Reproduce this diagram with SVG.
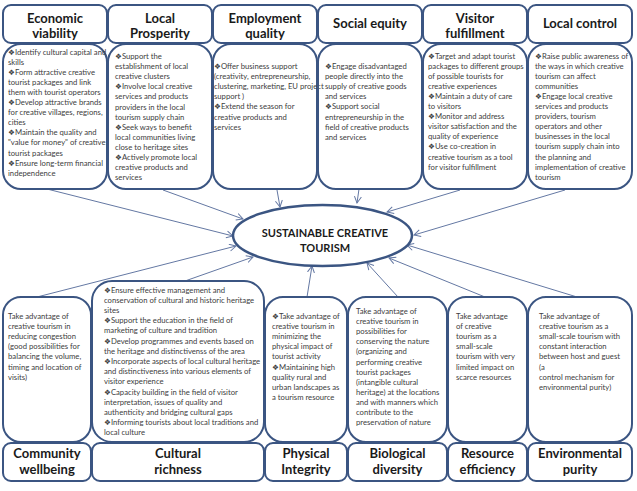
<svg xmlns="http://www.w3.org/2000/svg" width="637" height="491" viewBox="0 0 637 491">
<defs>
<marker id="arr" markerWidth="9" markerHeight="9" refX="7" refY="4" orient="auto" markerUnits="userSpaceOnUse">
<path d="M0.5,0.5 L7,4 L0.5,7.5" fill="none" stroke="#6478a3" stroke-width="1"/>
</marker>
<style>
.hd{fill:#fff;stroke:#3b5582;stroke-width:2}
.bx{fill:none;stroke:#3b5582;stroke-width:2}
.ht{font-family:Lato,"Liberation Sans","DejaVu Sans",sans-serif;font-weight:bold;font-size:13px;fill:#1a1a1a;text-anchor:middle}
.ct{font-family:Lato,"Liberation Sans","DejaVu Sans",sans-serif;font-size:7.7px;fill:#404040}
.cn{stroke:#6478a3;stroke-width:1;fill:none;marker-end:url(#arr)}
.et{font-family:Lato,"Liberation Sans",sans-serif;font-weight:bold;font-size:11px;fill:#1a1a1a;text-anchor:middle}
</style>
</defs>
<rect width="637" height="491" fill="#fff"/>

<g id="connectors">
<line class="cn" x1="47" y1="189" x2="233" y2="236"/>
<line class="cn" x1="163" y1="190" x2="243" y2="219"/>
<line class="cn" x1="277" y1="190" x2="280" y2="207"/>
<line class="cn" x1="359" y1="189" x2="357" y2="203"/>
<line class="cn" x1="460" y1="190" x2="387" y2="212"/>
<line class="cn" x1="565" y1="190" x2="414" y2="235"/>
<line class="cn" x1="37" y1="297" x2="236" y2="246"/>
<line class="cn" x1="185" y1="281" x2="253" y2="257"/>
<line class="cn" x1="307" y1="297" x2="312" y2="266"/>
<line class="cn" x1="398" y1="297" x2="367" y2="263"/>
<line class="cn" x1="485" y1="297" x2="389" y2="258"/>
<line class="cn" x1="577" y1="297" x2="407" y2="245"/>
</g>

<g id="center">
<ellipse cx="322.5" cy="235.5" rx="89.5" ry="30.5" fill="#fff" stroke="#3b5582" stroke-width="2.5"/>
<text class="et" x="325" y="237">SUSTAINABLE CREATIVE</text>
<text class="et" x="325" y="252">TOURISM</text>
</g>

<g id="economic-viability">
<rect class="bx" x="3" y="44" width="104" height="145" rx="18"/>
<rect class="hd" x="3" y="5" width="104" height="38" rx="8"/>
<text class="ht" x="55" y="23">Economic</text>
<text class="ht" x="55" y="38">viability</text>
<text class="ct" x="8" y="54.5">❖Identify cultural capital and<tspan x="8" dy="10.1">skills</tspan><tspan x="8" dy="10.1">❖Form attractive creative</tspan><tspan x="8" dy="10.1">tourist packages and link</tspan><tspan x="8" dy="10.1">them with tourist operators</tspan><tspan x="8" dy="10.1">❖Develop attractive brands</tspan><tspan x="8" dy="10.1">for creative villages, regions,</tspan><tspan x="8" dy="10.1">cities</tspan><tspan x="8" dy="10.1">❖Maintain the quality and</tspan><tspan x="8" dy="10.1">"value for money" of creative</tspan><tspan x="8" dy="10.1">tourist packages</tspan><tspan x="8" dy="10.1">❖Ensure long-term financial</tspan><tspan x="8" dy="10.1">independence</tspan></text>
</g>

<g id="local-prosperity">
<rect class="bx" x="108" y="44" width="104" height="145" rx="18"/>
<rect class="hd" x="108" y="5" width="104" height="38" rx="8"/>
<text class="ht" x="160" y="23">Local</text>
<text class="ht" x="160" y="38">Prosperity</text>
<text class="ct" x="115" y="59">❖Support  the<tspan x="115" dy="10.1">establishment of local</tspan><tspan x="115" dy="10.1">creative clusters</tspan><tspan x="115" dy="10.1">❖Involve local creative</tspan><tspan x="115" dy="10.1">services and products</tspan><tspan x="115" dy="10.1">providers in the local</tspan><tspan x="115" dy="10.1">tourism supply chain</tspan><tspan x="115" dy="10.1">❖Seek ways to benefit</tspan><tspan x="115" dy="10.1">local communities living</tspan><tspan x="115" dy="10.1">close to heritage sites</tspan><tspan x="115" dy="10.1">❖Actively promote local</tspan><tspan x="115" dy="10.1">creative products and</tspan><tspan x="115" dy="10.1">services</tspan></text>
</g>

<g id="employment-quality">
<rect class="bx" x="213" y="44" width="104" height="145" rx="18"/>
<rect class="hd" x="213" y="5" width="104" height="38" rx="8"/>
<text class="ht" x="265" y="23">Employment</text>
<text class="ht" x="265" y="38">quality</text>
<text class="ct" x="214" y="69">❖Offer business support<tspan x="214" dy="10.1">(creativity, entrepreneurship,</tspan><tspan x="214" dy="10.1">clustering, marketing, EU project</tspan><tspan x="214" dy="10.1">support )</tspan><tspan x="214" dy="10.1">❖Extend the season for</tspan><tspan x="214" dy="10.1">creative products and</tspan><tspan x="214" dy="10.1">services</tspan></text>
</g>

<g id="social-equity">
<rect class="bx" x="318" y="44" width="104" height="145" rx="18"/>
<rect class="hd" x="318" y="5" width="104" height="38" rx="8"/>
<text class="ht" x="370" y="28">Social equity</text>
<text class="ct" x="325" y="69">❖Engage disadvantaged<tspan x="325" dy="10.1">people directly into the</tspan><tspan x="325" dy="10.1">supply of creative goods</tspan><tspan x="325" dy="10.1">and services</tspan><tspan x="325" dy="10.1">❖Support social</tspan><tspan x="325" dy="10.1">entrepreneurship in the</tspan><tspan x="325" dy="10.1">field of creative products</tspan><tspan x="325" dy="10.1">and services</tspan></text>
</g>

<g id="visitor-fulfillment">
<rect class="bx" x="423" y="44" width="104" height="145" rx="18"/>
<rect class="hd" x="423" y="5" width="104" height="38" rx="8"/>
<text class="ht" x="475" y="23">Visitor</text>
<text class="ht" x="475" y="38">fulfillment</text>
<text class="ct" x="428" y="58.5">❖Target and adapt tourist<tspan x="428" dy="10.1">packages to different groups</tspan><tspan x="428" dy="10.1">of possible tourists for</tspan><tspan x="428" dy="10.1">creative experiences</tspan><tspan x="428" dy="10.1">❖Maintain a duty of care</tspan><tspan x="428" dy="10.1">to visitors</tspan><tspan x="428" dy="10.1">❖Monitor and address</tspan><tspan x="428" dy="10.1">visitor satisfaction and the</tspan><tspan x="428" dy="10.1">quality of experience</tspan><tspan x="428" dy="10.1">❖Use co-creation in</tspan><tspan x="428" dy="10.1">creative tourism as a tool</tspan><tspan x="428" dy="10.1">for visitor fulfillment</tspan></text>
</g>

<g id="local-control">
<rect class="bx" x="528" y="44" width="104" height="145" rx="18"/>
<rect class="hd" x="528" y="5" width="104" height="38" rx="8"/>
<text class="ht" x="580" y="28">Local control</text>
<text class="ct" x="535" y="58.5">❖Raise public awareness of<tspan x="535" dy="10.1">the ways in which creative</tspan><tspan x="535" dy="10.1">tourism can affect</tspan><tspan x="535" dy="10.1">communities</tspan><tspan x="535" dy="10.1">❖Engage local  creative</tspan><tspan x="535" dy="10.1">services and products</tspan><tspan x="535" dy="10.1">providers, tourism</tspan><tspan x="535" dy="10.1">operators and other</tspan><tspan x="535" dy="10.1">businesses in the local</tspan><tspan x="535" dy="10.1">tourism supply chain into</tspan><tspan x="535" dy="10.1">the planning and</tspan><tspan x="535" dy="10.1">implementation of  creative</tspan><tspan x="535" dy="10.1">tourism</tspan></text>
</g>

<g id="community-wellbeing">
<rect class="bx" x="3" y="297" width="88" height="145" rx="18"/>
<rect class="hd" x="3" y="443" width="88" height="38" rx="8"/>
<text class="ht" x="47" y="458">Community</text>
<text class="ht" x="47" y="474">wellbeing</text>
<text class="ct" x="8" y="319">Take advantage of<tspan x="8" dy="10.1">creative tourism in</tspan><tspan x="8" dy="10.1">reducing congestion</tspan><tspan x="8" dy="10.1">(good possibilities for</tspan><tspan x="8" dy="10.1">balancing the volume,</tspan><tspan x="8" dy="10.1">timing and location of</tspan><tspan x="8" dy="10.1">visits)</tspan></text>
</g>

<g id="cultural-richness">
<rect class="bx" x="92" y="281" width="172" height="161" rx="20"/>
<rect class="hd" x="92" y="443" width="172" height="38" rx="8"/>
<text class="ht" x="178" y="458">Cultural</text>
<text class="ht" x="178" y="474">richness</text>
<text class="ct" x="104" y="292.5">❖Ensure effective management and<tspan x="104" dy="10.2">conservation of cultural and historic heritage</tspan><tspan x="104" dy="10.2">sites</tspan><tspan x="104" dy="10.2">❖Support the education in the field of</tspan><tspan x="104" dy="10.2">marketing of culture and tradition</tspan><tspan x="104" dy="10.2">❖Develop programmes and events based on</tspan><tspan x="104" dy="10.2">the heritage and distinctivenss of the area</tspan><tspan x="104" dy="10.2">❖Incorporate aspects of local cultural heritage</tspan><tspan x="104" dy="10.2">and distinctiveness into various elements of</tspan><tspan x="104" dy="10.2">visitor experience</tspan><tspan x="104" dy="10.2">❖Capacity building in the field of visitor</tspan><tspan x="104" dy="10.2">interpretation, issues of quality and</tspan><tspan x="104" dy="10.2">authenticity and bridging cultural gaps</tspan><tspan x="104" dy="10.2">❖Informing tourists about local traditions and</tspan><tspan x="104" dy="10.2">local culture</tspan></text>
</g>

<g id="physical-integrity">
<rect class="bx" x="265" y="297" width="82" height="145" rx="18"/>
<rect class="hd" x="265" y="443" width="82" height="38" rx="8"/>
<text class="ht" x="306" y="458">Physical</text>
<text class="ht" x="306" y="474">Integrity</text>
<text class="ct" x="272" y="319">❖Take advantage of<tspan x="272" dy="10.1">creative tourism in</tspan><tspan x="272" dy="10.1">minimizing the</tspan><tspan x="272" dy="10.1">physical impact of</tspan><tspan x="272" dy="10.1">tourist activity</tspan><tspan x="272" dy="10.1">❖Maintaining high</tspan><tspan x="272" dy="10.1">quality rural and</tspan><tspan x="272" dy="10.1">urban landscapes as</tspan><tspan x="272" dy="10.1">a tourism resource</tspan></text>
</g>

<g id="biological-diversity">
<rect class="bx" x="348" y="297" width="99" height="145" rx="18"/>
<rect class="hd" x="348" y="443" width="99" height="38" rx="8"/>
<text class="ht" x="397.5" y="458">Biological</text>
<text class="ht" x="397.5" y="474">diversity</text>
<text class="ct" x="356" y="314">Take advantage of<tspan x="356" dy="10.1">creative tourism in</tspan><tspan x="356" dy="10.1">possibilities for</tspan><tspan x="356" dy="10.1">conserving the nature</tspan><tspan x="356" dy="10.1">(organizing and</tspan><tspan x="356" dy="10.1">performing creative</tspan><tspan x="356" dy="10.1">tourist packages</tspan><tspan x="356" dy="10.1">(intangible cultural</tspan><tspan x="356" dy="10.1">heritage) at the locations</tspan><tspan x="356" dy="10.1">and  with manners which</tspan><tspan x="356" dy="10.1">contribute to the</tspan><tspan x="356" dy="10.1">preservation of nature</tspan></text>
</g>

<g id="resource-efficiency">
<rect class="bx" x="448" y="297" width="79" height="145" rx="18"/>
<rect class="hd" x="448" y="443" width="79" height="38" rx="8"/>
<text class="ht" x="487.5" y="458">Resource</text>
<text class="ht" x="487.5" y="474">efficiency</text>
<text class="ct" x="456" y="319">Take advantage<tspan x="456" dy="10.1">of creative</tspan><tspan x="456" dy="10.1">tourism as a</tspan><tspan x="456" dy="10.1">small-scale</tspan><tspan x="456" dy="10.1">tourism with very</tspan><tspan x="456" dy="10.1">limited impact on</tspan><tspan x="456" dy="10.1">scarce resources</tspan></text>
</g>

<g id="environmental-purity">
<rect class="bx" x="528" y="297" width="104" height="145" rx="18"/>
<rect class="hd" x="528" y="443" width="104" height="38" rx="8"/>
<text class="ht" x="580" y="458">Environmental</text>
<text class="ht" x="580" y="474">purity</text>
<text class="ct" x="539" y="319">Take advantage of<tspan x="539" dy="10.1">creative tourism as a</tspan><tspan x="539" dy="10.1">small-scale tourism with</tspan><tspan x="539" dy="10.1">constant interaction</tspan><tspan x="539" dy="10.1">between host and guest</tspan><tspan x="539" dy="10.1">(a</tspan><tspan x="539" dy="10.1">control mechanism for</tspan><tspan x="539" dy="10.1">environmental purity)</tspan></text>
</g>
</svg>
